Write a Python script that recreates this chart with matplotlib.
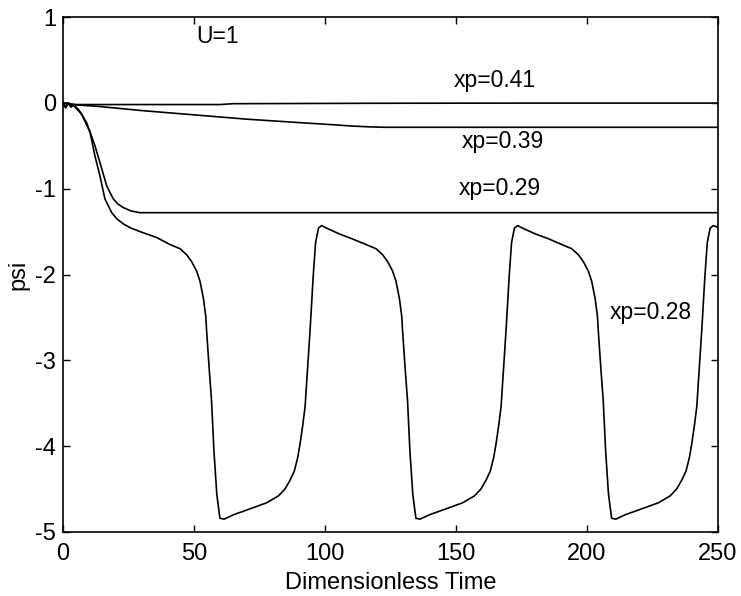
import matplotlib.pyplot as plt

plt.rcParams['font.family'] = ['Liberation Sans', 'DejaVu Sans']
plt.rcParams['axes.unicode_minus'] = False

# xp = 0.41
t41 = [0, 2, 5, 20, 40, 60, 65, 120, 180, 250]
psi41 = [0, -0.01, -0.02, -0.02, -0.02, -0.02, -0.01, -0.005, -0.003, -0.003]

# xp = 0.39
t39 = [0, 3, 13, 30, 50, 70, 90, 103, 110, 117, 123, 250]
psi39 = [0, -0.02, -0.04, -0.09, -0.14, -0.19, -0.23, -0.255, -0.27, -0.28,
         -0.285, -0.285]

# xp = 0.29
t29 = [0, 1, 2, 3, 4, 6, 9, 12.2, 14.8, 16.7, 19.2, 21, 23, 26, 29.4, 250]
psi29 = [0, -0.05, 0.0, -0.04, -0.02, -0.08, -0.23, -0.5, -0.77, -0.97, -1.12,
         -1.18, -1.22, -1.26, -1.28, -1.28]

# xp = 0.28
t28 = [0, 1, 2, 3, 3.9, 7.1, 10.3, 12.2, 14.1, 16, 18.6, 20.5, 23, 26, 29.4,
       35.8, 40.8, 44.7, 47.2, 49.1, 51, 52.3, 53.6, 54.5, 54.8, 55.8, 56.7,
       57.6, 58.7, 59.9, 61.5, 65, 71.4, 77.7, 82.2, 84.7, 86.6, 88.3, 89.6,
       90.5, 91.4, 92.4, 94.3, 95.5, 96.4, 97.5, 98.7, 100.6,
       105.7, 110, 115.6, 119.5, 122, 123.9, 125.8, 127.1, 128.4, 129.3, 129.6,
       130.6, 131.5, 132.4, 133.5, 134.7, 136.3, 139.8, 146.2, 152.5, 157,
       159.5, 161.4, 163.1, 164.4, 165.3, 166.2, 167.2, 169.1, 170.3,
       171.2, 172.3, 173.5, 175.4,
       180.5, 185, 190.3, 194.2, 196.7, 198.6, 200.5, 201.8, 203.1, 204, 204.3,
       205.3, 206.2, 207.1, 208.2, 209.4, 211, 214.5, 220.9, 227.2, 231.7,
       234.2, 236.1, 237.8, 239.1, 240, 240.9, 241.9, 243.8, 245, 245.9,
       247, 248.2, 250]
psi28 = [0, -0.06, 0.0, -0.05, -0.03, -0.13, -0.34, -0.62, -0.85, -1.12, -1.28,
         -1.35, -1.41, -1.46, -1.5, -1.57, -1.65, -1.7, -1.77, -1.85, -1.96,
         -2.08, -2.28, -2.49, -2.65, -3.1, -3.47, -4.05, -4.56, -4.84, -4.85,
         -4.8, -4.73, -4.66, -4.58, -4.5, -4.4, -4.29, -4.13, -3.97, -3.78,
         -3.54, -2.65, -2.02, -1.63, -1.46, -1.43, -1.46,
         -1.53, -1.58, -1.65, -1.7, -1.77, -1.85, -1.96, -2.08, -2.28, -2.49,
         -2.65, -3.1, -3.47, -4.05, -4.56, -4.84, -4.85, -4.8, -4.73, -4.66,
         -4.58, -4.5, -4.4, -4.29, -4.13, -3.97, -3.78, -3.54, -2.65,
         -2.02, -1.63, -1.46, -1.43, -1.46,
         -1.53, -1.58, -1.65, -1.7, -1.77, -1.85, -1.96, -2.08, -2.28, -2.49,
         -2.65, -3.1, -3.47, -4.05, -4.56, -4.84, -4.85, -4.8, -4.73, -4.66,
         -4.58, -4.5, -4.4, -4.29, -4.13, -3.97, -3.78, -3.54, -2.65,
         -2.02, -1.63, -1.46, -1.43, -1.45]

fig = plt.figure(figsize=(7.41, 5.96), dpi=100)
ax = fig.add_axes([63 / 741, 1 - 532 / 596, (718 - 63) / 741, (532 - 17) / 596])

for t, p in [(t41, psi41), (t39, psi39), (t29, psi29), (t28, psi28)]:
    ax.plot(t, p, color='black', lw=1.2)

ax.set_xlim(0, 250)
ax.set_ylim(-5, 1)
ax.set_xticks([0, 50, 100, 150, 200, 250])
ax.set_yticks([-5, -4, -3, -2, -1, 0, 1])
ax.tick_params(direction='in', top=True, right=True, length=5, width=1,
               labelsize=17)
ax.tick_params(axis='x', pad=8)
ax.tick_params(axis='y', pad=5)
for s in ax.spines.values():
    s.set_linewidth(1.2)

ax.set_xlabel('Dimensionless Time', fontsize=17, labelpad=5)
ax.set_ylabel('psi', fontsize=17, labelpad=4)

fs = 16.5
ax.text(51, 0.77, 'U=1', fontsize=fs, va='center')
ax.text(149, 0.26, 'xp=0.41', fontsize=fs, va='center')
ax.text(152.3, -0.445, 'xp=0.39', fontsize=fs, va='center')
ax.text(151.1, -1.0, 'xp=0.29', fontsize=fs, va='center')
ax.text(208.8, -2.44, 'xp=0.28', fontsize=fs, va='center')

fig.savefig('out.png', dpi=100)
